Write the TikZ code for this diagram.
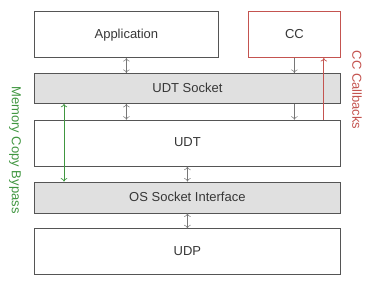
\documentclass[tikz,border=0pt]{standalone}
\usepackage{fontspec}
\setmainfont{Liberation Sans}
\definecolor{BoxGray}{RGB}{85,85,85}
\definecolor{LayerFill}{RGB}{224,224,224}
\definecolor{CallbackRed}{RGB}{196,84,80}
\definecolor{BypassGreen}{RGB}{64,150,64}
\definecolor{LabelGray}{RGB}{55,55,55}
\usetikzlibrary{
    arrows.meta,
    positioning
}

\begin{document}
\begin{tikzpicture}[
    x=1pt, y=1pt,
    font=\fontsize{13}{15}\selectfont,
    layer/.style={
        draw=BoxGray,
        line width=0.8pt,
        minimum width=306pt,
        minimum height=46pt,
        inner sep=0pt,
        text height=0.72em,
        text depth=0pt,
        text=LabelGray
    },
    socket/.style={
        layer,
        fill=LayerFill,
        minimum height=30pt
    },
    app/.style={
        layer,
        minimum width=184pt
    },
    ccbox/.style={
        layer,
        draw=CallbackRed,
        minimum width=92pt
    },
    link/.style={
        {To[length=3.5pt,width=6.5pt]}-{To[length=3.5pt,width=6.5pt]},
        line width=0.5pt,
        color=BoxGray!80
    },
    down/.style={
        -{To[length=3.5pt,width=6.5pt]},
        line width=0.5pt,
        color=BoxGray!80
    },
    callback/.style={
        -{To[length=3.5pt,width=6.5pt]},
        line width=0.7pt,
        color=CallbackRed
    },
    bypass/.style={
        {To[length=3.5pt,width=6.5pt]}-{To[length=3.5pt,width=6.5pt]},
        line width=0.7pt,
        color=BypassGreen
    }
]
\useasboundingbox (0,0) rectangle (386,290);
%
\node[socket, anchor=north west] (udtsock) at (34,217) {UDT Socket};
%
\node[app, above=15pt of udtsock.north west, anchor=south west] (app) {Application};
%
\node[ccbox, above=15pt of udtsock.north east, anchor=south east] (cc) {CC};
%
\node[layer, below=16pt of udtsock] (udt) {UDT};
%
\node[socket, minimum height=31pt, below=15pt of udt] (ossock) {OS Socket Interface};
%
\node[layer, below=15pt of ossock] (udp) {UDP};
%
\coordinate (cb) at ([xshift=-17pt]cc.south east);
\coordinate (mb) at ([xshift=30pt]udtsock.south west);
%
\draw[link] (app.south) -- (app.south |- udtsock.north);
\draw[link] (udtsock.south -| app.south) -- (udt.north -| app.south);
%
\draw[down] (cc.south) -- (cc.south |- udtsock.north);
\draw[down] (udtsock.south -| cc.south) -- (udt.north -| cc.south);
%
\draw[callback] (udt.north -| cb) -- (cb);
%
\draw[bypass] (mb) -- (mb |- ossock.north);
%
\draw[link] (udt.south) -- (ossock.north);
\draw[link] (ossock.south) -- (udp.north);
%
\node[text=BypassGreen, rotate=-90] (bypasslabel) at (15,140) {Memory Copy Bypass};
\node[text=CallbackRed, rotate=-90] (cblabel) at (357,200) {CC Callbacks};
%
\end{tikzpicture}
\end{document}
